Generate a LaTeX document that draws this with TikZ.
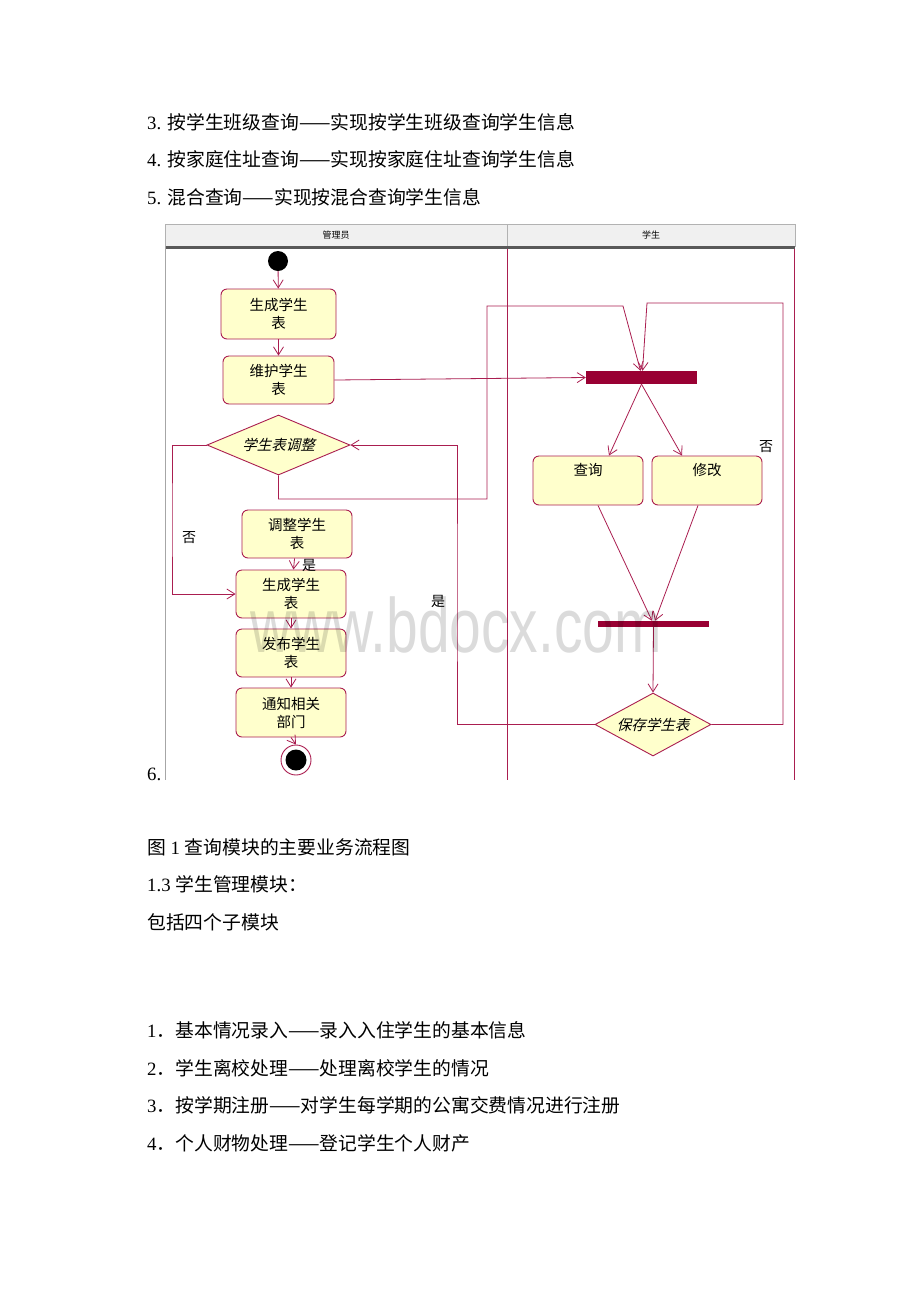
\documentclass[tikz,border=0pt]{standalone}
\usepackage{fontspec}
\setmainfont{Liberation Serif}
\newfontfamily\cjk{Noto Sans CJK SC}
\newfontfamily\cjkit[FakeSlant=0.25]{Noto Sans CJK SC}
\newfontfamily\wmfont{Liberation Sans}
\usetikzlibrary{arrows.meta,shapes.geometric}
\definecolor{uml}{RGB}{170,30,80}
\definecolor{barc}{RGB}{153,0,51}
\definecolor{boxfill}{RGB}{255,255,204}
\begin{document}
\begin{tikzpicture}[x=1pt,y=-1pt,
  body/.style={anchor=base west, inner sep=0, font=\fontsize{18.8}{22}\selectfont},
  ubox/.style={draw=uml, fill=boxfill, rounded corners=6pt, line width=0.9pt, align=center,
     font=\cjk\fontsize{14.5}{18}\selectfont, inner sep=0},
  udec/.style={diamond, draw=uml, fill=boxfill, line width=0.9pt, inner sep=0,
     font=\cjkit\fontsize{14.5}{18}\selectfont},
  ubar/.style={rectangle, fill=barc, draw=none, inner sep=0},
  arr/.style={draw=uml, line width=0.8pt, -{Straight Barb[length=8pt,width=10pt,line width=0.8pt]}},
  lbl/.style={font=\cjk\fontsize{14}{16}\selectfont, inner sep=0},
  hdr/.style={font=\cjk\fontsize{9}{10}\selectfont, inner sep=0},
]
\useasboundingbox (0,0) rectangle (920,1302);
\fill[white] (0,0) rectangle (920,1302);

% body text
\node[body] (t3) at (147,129) {3. {\cjk 按学生班级查询——实现按学生班级查询学生信息}};
\node[body] (t4) at (147,166) {4. {\cjk 按家庭住址查询——实现按家庭住址查询学生信息}};
\node[body] (t5) at (147,204) {5. {\cjk 混合查询——实现按混合查询学生信息}};
\node[body] (t6) at (147,780) {6.};
\node[body] (c1) at (147,854) {{\cjk 图} 1 {\cjk 查询模块的主要业务流程图}};
\node[body] (c2) at (147,891) {1.3 {\cjk 学生管理模块：}};
\node[body] (c3) at (147,929) {{\cjk 包括四个子模块}};
\node[body] (s1) at (147,1037) {1{\cjk ．基本情况录入——录入入住学生的基本信息}};
\node[body] (s2) at (147,1075) {2{\cjk ．学生离校处理——处理离校学生的情况}};
\node[body] (s3) at (147,1112) {3{\cjk ．按学期注册——对学生每学期的公寓交费情况进行注册}};
\node[body] (s4) at (147,1150) {4{\cjk ．个人财物处理——登记学生个人财产}};

% swimlane frame
\draw[gray!60, fill=gray!12] (165,224) rectangle (795,246);
\draw[gray!60] (507,224) -- (507,246);
\draw[gray!70!black, line width=2.5pt] (165,247.5) -- (795,247.5);
\draw[gray!70, line width=0.8pt] (165,246) -- (165,780);
\draw[uml, line width=0.8pt] (507,249) -- (507,780);
\draw[uml, line width=0.8pt] (794,249) -- (794,780);
\node[hdr] (h1) at (336,235) {管理员};
\node[hdr] (h2) at (651,235) {学生};

% nodes
\node[circle, fill=black, minimum size=20pt, inner sep=0] (start) at (278,261) {};
\node[ubox, minimum width=115pt, minimum height=50pt] (g1) at (278.5,314) {生成学生\\表};
\node[ubox, minimum width=111pt, minimum height=48pt] (wh) at (278.5,380) {维护学生\\表};
\node[udec, aspect=2.4, minimum width=143pt, minimum height=60pt] (dec1) at (278.5,445) {学生表调整};
\node[ubox, minimum width=110pt, minimum height=48pt] (adj) at (297,534) {调整学生\\表};
\node[ubox, minimum width=110pt, minimum height=48pt] (g2) at (291,594) {生成学生\\表};
\node[ubox, minimum width=110pt, minimum height=48pt] (pub) at (291,653) {发布学生\\表};
\node[ubox, minimum width=110pt, minimum height=49pt] (ntf) at (291,712.5) {通知相关\\部门};
\node[circle, draw=uml, fill=white, line width=0.9pt, minimum size=30pt, inner sep=0] (end) at (296,760) {};
\node[circle, fill=black, minimum size=21pt, inner sep=0] (endin) at (end.center) {};

\node[ubar, minimum width=111pt, minimum height=13pt] (bar1) at (641.5,377.5) {};
\node[ubox, minimum width=110pt, minimum height=49pt,
      label={[anchor=north, yshift=-4pt, font=\cjk\fontsize{14.5}{18}\selectfont]north:查询}] (q) at (588,480.5) {};
\node[ubox, minimum width=110pt, minimum height=49pt,
      label={[anchor=north, yshift=-4pt, font=\cjk\fontsize{14.5}{18}\selectfont]north:修改}] (m) at (707,480.5) {};
\node[ubar, minimum width=111pt, minimum height=6pt] (bar2) at (653.5,624) {};
\node[udec, aspect=1.85, minimum width=116pt, minimum height=63pt] (save) at (653,724.5) {保存学生表};

% bend points
\coordinate (k1) at (172,520);
\coordinate (k2) at (487,499);
\coordinate (k3) at (623,306);
\coordinate (k4) at (783,303);
\coordinate (k5) at (647,303);
\coordinate (k6) at (457,600);

% connectors
\draw[arr] (start) -- (g1);
\draw[arr] (g1) -- (wh);
\draw[arr] (wh.east) -- (bar1.west);
\draw[arr] (dec1.west) -| (k1) |- (g2.west);
\draw[arr] (dec1.south) |- (k2) |- (k3) -- ([xshift=-1pt]bar1.north);
\draw[arr] (save.east) -| (k4) -- (k5) -- ([xshift=1pt]bar1.north);
\draw[arr] (save.west) -| (k6) |- (dec1.east);
\draw[arr] (bar1.south) -- ([xshift=21pt]q.north);
\draw[arr] (bar1.south) -- ([xshift=-25pt]m.north);
\draw[arr] ([xshift=10pt]q.south) -- ([xshift=-1.5pt]bar2.north);
\draw[arr] ([xshift=-9pt]m.south) -- ([xshift=1.5pt]bar2.north);
\draw[arr] (bar2.south) -- (save.north);
\draw[arr] (adj) -- (g2);
\draw[arr] (g2) -- (pub);
\draw[arr] (pub) -- (ntf);
\draw[arr] (ntf.south) -- (end.north);

% guard labels
\node[lbl] (n1) at (189,538) {否};
\node[lbl] (y1) at (309,565) {是};
\node[lbl] (y2) at (438,601) {是};
\node[lbl] (n2) at (766,447) {否};

% watermark
\node[anchor=base west, inner sep=0, text=black, text opacity=0.14,
      font=\wmfont\fontsize{77}{80}\selectfont] (wmk) at (250,652) {\scalebox{0.74}[1]{www.bdocx.com}};
\end{tikzpicture}
\end{document}
